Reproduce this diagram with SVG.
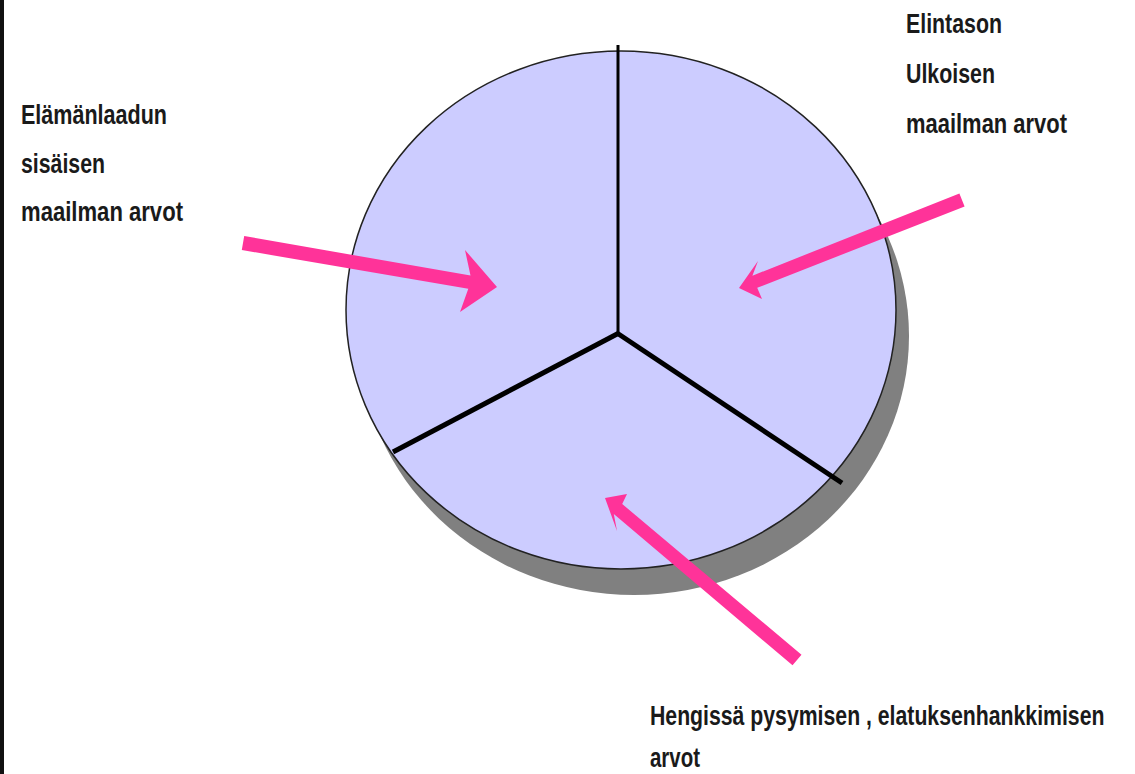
<svg xmlns="http://www.w3.org/2000/svg" width="1135" height="774" viewBox="0 0 1135 774">
<style>
.lbl{font-family:"Liberation Sans Narrow","Liberation Sans",Arial,sans-serif;font-weight:bold;font-size:27px;fill:#1a1a1a}
.arrow{fill:#FF3399}
.spoke{stroke:#000;fill:none;stroke-linecap:butt}
</style>
<rect x="0" y="0" width="1135" height="774" fill="#fff"/>
<rect x="0" y="0" width="4" height="774" fill="#111"/>
<g id="pie">
<ellipse cx="634" cy="336" rx="275" ry="259" fill="#808080"/>
<ellipse cx="621" cy="310" rx="275" ry="259" fill="#CCCCFF" stroke="#222" stroke-width="1.5"/>
</g>
<g id="dividers">
<line class="spoke" x1="618" y1="45" x2="618" y2="333" stroke-width="3"/>
<line class="spoke" x1="619" y1="333" x2="393" y2="452" stroke-width="5"/>
<line class="spoke" x1="617" y1="333" x2="842" y2="483" stroke-width="5"/>
</g>
<g id="connectors">
<polygon class="arrow" points="241.8,250 468.3,288.8 460,312 497,287 465,250 470.5,275.6 244.2,236"/>
<polygon class="arrow" points="959.4,193.5 752.4,275.7 758,261 739,288 762,299 757.2,287.8 964.6,206.5"/>
<polygon class="arrow" points="801.5,654.7 622.2,504 627,494 605,498 617,531 613.8,513.9 792.5,665.3"/>
</g>
<g id="label-left">
<text class="lbl" x="21" y="124" textLength="146" lengthAdjust="spacingAndGlyphs">Elämänlaadun</text>
<text class="lbl" x="21" y="173" textLength="84" lengthAdjust="spacingAndGlyphs">sisäisen</text>
<text class="lbl" x="21" y="221" textLength="162" lengthAdjust="spacingAndGlyphs">maailman arvot</text>
</g>
<g id="label-right">
<text class="lbl" x="906" y="33" textLength="96" lengthAdjust="spacingAndGlyphs">Elintason</text>
<text class="lbl" x="906" y="83" textLength="89" lengthAdjust="spacingAndGlyphs">Ulkoisen</text>
<text class="lbl" x="906" y="133" textLength="161" lengthAdjust="spacingAndGlyphs">maailman arvot</text>
</g>
<g id="label-bottom">
<text class="lbl" transform="translate(650,725) scale(0.787,1)" x="0" y="0">Hengissä pysymisen , elatuksenhankkimisen</text>
<text class="lbl" x="650" y="767" textLength="50" lengthAdjust="spacingAndGlyphs">arvot</text>
</g>
</svg>
